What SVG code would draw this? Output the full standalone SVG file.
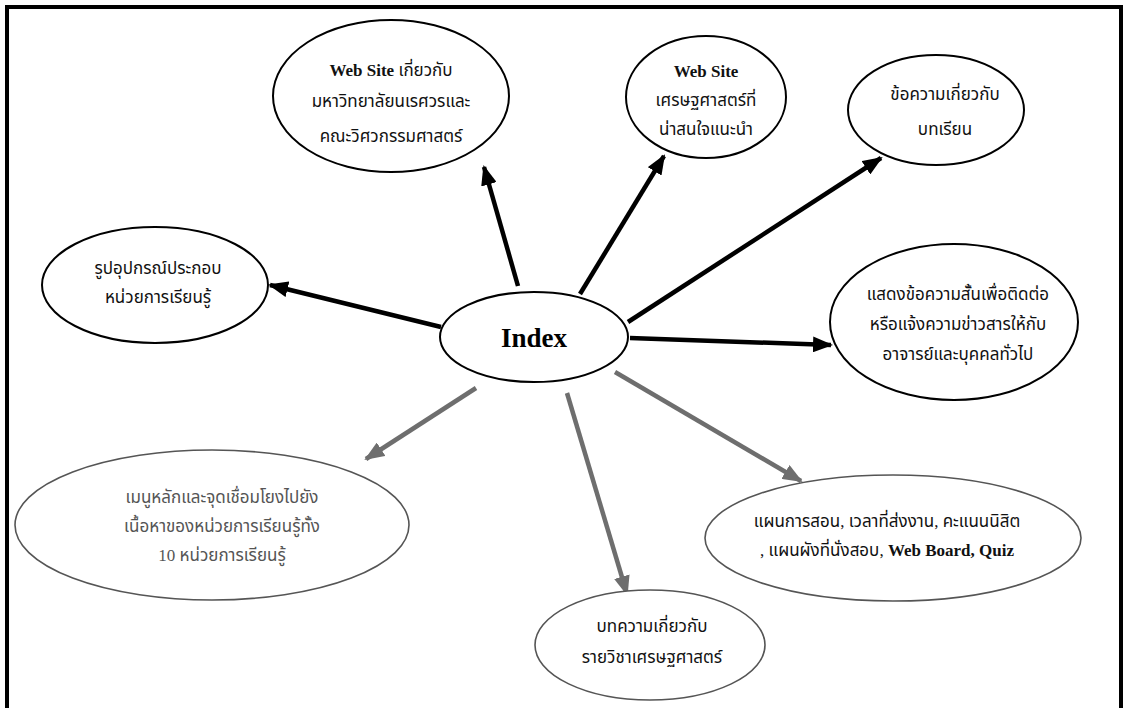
<svg xmlns="http://www.w3.org/2000/svg" width="1126" height="708" viewBox="0 0 1126 708">
<style>
.node{fill:#fff;stroke:#000;stroke-width:2}
.gnode{fill:#fff;stroke:#555;stroke-width:1.6}
.t{font-family:"Liberation Serif","Noto Sans Thai","Noto Serif Thai","DejaVu Sans",serif;font-size:17px;text-anchor:middle;fill:#111}
.g{fill:#555}
.b{font-weight:bold}
.idx{font-family:"Liberation Serif",serif;font-size:27px;font-weight:bold;text-anchor:middle;fill:#000}
.ar{stroke:#000;stroke-width:4.5;fill:none;marker-end:url(#hb)}
.ag{stroke:#6e6e6e;stroke-width:4.5;fill:none;marker-end:url(#hg)}
</style>
<defs>
<marker id="hb" markerUnits="userSpaceOnUse" markerWidth="20" markerHeight="16" refX="18" refY="8" orient="auto"><path d="M0,0 L20,8 L0,16 Z" fill="#000"/></marker>
<marker id="hg" markerUnits="userSpaceOnUse" markerWidth="20" markerHeight="16" refX="18" refY="8" orient="auto"><path d="M0,0 L20,8 L0,16 Z" fill="#6e6e6e"/></marker>
</defs>
<rect x="0" y="0" width="1126" height="708" fill="#fff"/>
<rect x="7" y="7" width="1114" height="740" fill="none" stroke="#000" stroke-width="4"/>
<g id="connectors">
<line class="ar" x1="518" y1="286" x2="484" y2="167"/>
<line class="ar" x1="580" y1="294" x2="664" y2="156"/>
<line class="ar" x1="628" y1="322" x2="881" y2="158"/>
<line class="ar" x1="441" y1="327" x2="270" y2="285"/>
<line class="ar" x1="630" y1="338" x2="831" y2="345"/>
<line class="ag" x1="476" y1="388" x2="366" y2="459"/>
<line class="ag" x1="567" y1="393" x2="627" y2="594"/>
<line class="ag" x1="615" y1="372" x2="801" y2="481"/>
</g>
<g id="index">
<ellipse class="node" cx="534" cy="337" rx="94" ry="45" stroke-width="3"/>
<text class="idx" x="534" y="347">Index</text>
</g>
<g id="n1">
<ellipse class="node" cx="391" cy="96" rx="118" ry="76"/>
<text class="t b" x="391" y="76" font-size="19">Web Site <tspan font-weight="normal" font-size="17">เกี่ยวกับ</tspan></text>
<text class="t" x="391" y="107">มหาวิทยาลัยนเรศวรและ</text>
<text class="t" x="391" y="142">คณะวิศวกรรมศาสตร์</text>
</g>
<g id="n2">
<ellipse class="node" cx="706" cy="97" rx="80" ry="61"/>
<text class="t b" x="706" y="77" font-size="19">Web Site</text>
<text class="t" x="706" y="106">เศรษฐศาสตร์ที่</text>
<text class="t" x="706" y="135">น่าสนใจแนะนำ</text>
</g>
<g id="n3">
<ellipse class="node" cx="936" cy="110" rx="88" ry="55"/>
<text class="t" x="945" y="100">ข้อความเกี่ยวกับ</text>
<text class="t" x="945" y="135">บทเรียน</text>
</g>
<g id="n4">
<ellipse class="node" cx="155" cy="285" rx="113" ry="58"/>
<text class="t" x="158" y="274">รูปอุปกรณ์ประกอบ</text>
<text class="t" x="158" y="303">หน่วยการเรียนรู้</text>
</g>
<g id="n5">
<ellipse class="node" cx="954" cy="322" rx="124" ry="78"/>
<text class="t" x="958" y="300">แสดงข้อความสั้นเพื่อติดต่อ</text>
<text class="t" x="958" y="330">หรือแจ้งความข่าวสารให้กับ</text>
<text class="t" x="958" y="360">อาจารย์และบุคคลทั่วไป</text>
</g>
<g id="n6">
<ellipse class="gnode" cx="212" cy="525" rx="197" ry="75"/>
<text class="t g" x="222" y="503">เมนูหลักและจุดเชื่อมโยงไปยัง</text>
<text class="t g" x="222" y="532">เนื้อหาของหน่วยการเรียนรู้ทั้ง</text>
<text class="t g" x="222" y="561">10 หน่วยการเรียนรู้</text>
</g>
<g id="n7">
<ellipse class="gnode" cx="893" cy="538" rx="188" ry="63"/>
<text class="t" x="887" y="527">แผนการสอน, เวลาที่ส่งงาน, คะแนนนิสิต</text>
<text class="t" x="887" y="556">, แผนผังที่นั่งสอบ, <tspan font-weight="bold">Web Board, Quiz</tspan></text>
</g>
<g id="n8">
<ellipse class="gnode" cx="650" cy="645" rx="115" ry="55"/>
<text class="t" x="652" y="632">บทความเกี่ยวกับ</text>
<text class="t" x="652" y="663">รายวิชาเศรษฐศาสตร์</text>
</g>
</svg>
